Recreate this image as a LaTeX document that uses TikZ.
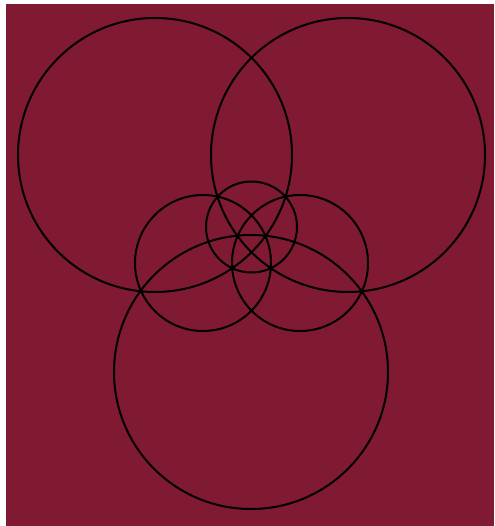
\documentclass[tikz,border=0pt]{standalone}
\definecolor{bgmaroon}{RGB}{128,26,51}
\begin{document}
\begin{tikzpicture}[x=1pt,y=-1pt,ring/.style={draw=black,line width=2pt}]
\useasboundingbox (0,0) rectangle (494,526);
\fill[white] (0,0) rectangle (494,526);
\fill[bgmaroon] (6,4) rectangle (494,526);
\draw[ring] (155,155) circle[radius=137];
\draw[ring] (348,155) circle[radius=137];
\draw[ring] (251,372) circle[radius=137];
\draw[ring] (203,263) circle[radius=68];
\draw[ring] (300,263) circle[radius=68];
\draw[ring] (251.5,227) circle[radius=45.5];
\end{tikzpicture}
\end{document}
